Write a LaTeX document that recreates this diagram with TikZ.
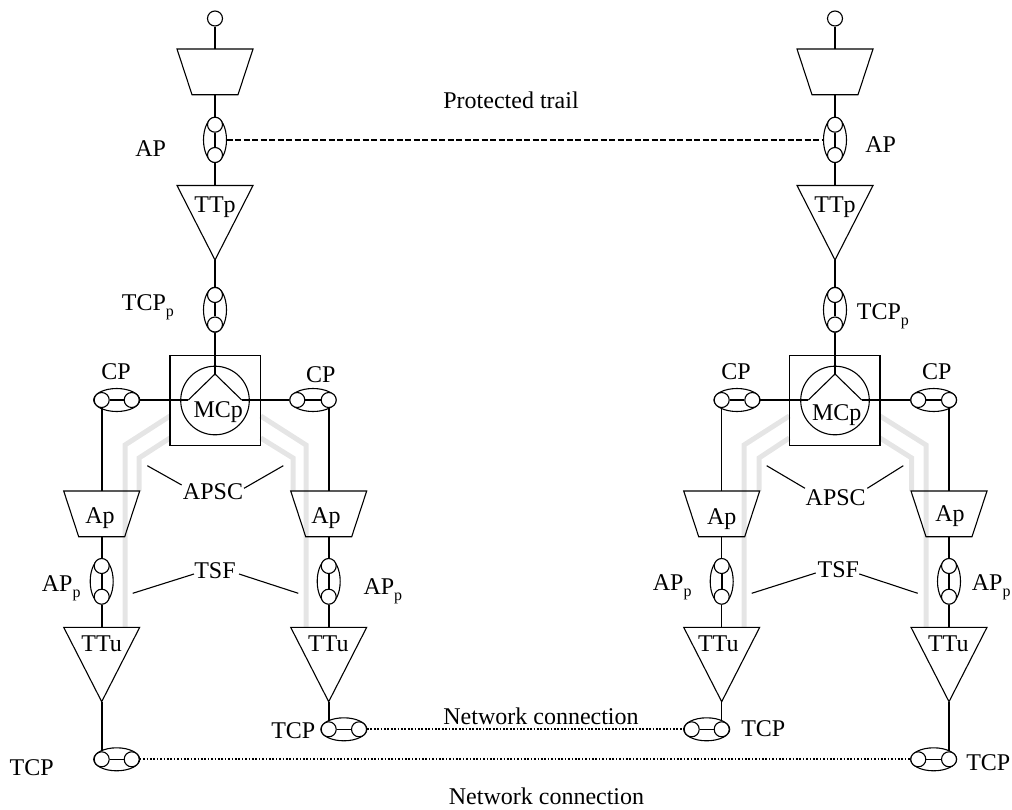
\documentclass[tikz,border=0pt]{standalone}
\usepackage{fontspec}
\setmainfont{Liberation Serif}
\newcommand{\subp}{\raisebox{-6pt}{\fontsize{16}{16}\selectfont p}}
\begin{document}
\begin{tikzpicture}[x=1pt,y=-1pt,
  ln/.style={draw=black,line width=1.1pt},
  thk/.style={draw=black,line width=1.6pt},
  gry/.style={draw=black!10,line width=5pt,line join=miter},
  lb/.style={inner sep=0pt,font=\fontsize{24}{26}\selectfont},
  bl/.style={lb,anchor=base},
  bw/.style={lb,anchor=base west},
  port/.style={circle,draw=black,line width=1.1pt,minimum size=15pt,inner sep=0pt,fill=white},
  trail/.style={line width=1.8pt,dash pattern=on 6pt off 2.5pt},
  conn/.style={line width=1.7pt,dash pattern=on 1.7pt off 1.7pt}]
\useasboundingbox (0,0) rectangle (1012,809);
\newcommand{\vpair}[4]{% name, x, y-top, y-bottom
  \draw[ln] (#2,{(#3+#4)/2}) ellipse (11.5 and 22.5);
  \node[port] (#1a) at (#2,#3) {};
  \node[port] (#1b) at (#2,#4) {};
  \draw[thk] (#1a) -- (#1b);}
\newcommand{\hpair}[4]{% name, x-left, x-right, y
  \draw[ln] ({(#2+#3)/2},#4) ellipse (23 and 11.5);
  \node[port] (#1a) at (#2,#4) {};
  \node[port] (#1b) at (#3,#4) {};
  \draw[thk] (#1a) -- (#1b);}
\newcommand{\trap}[6]{% name, cx, ytop, ybot, halftop, halfbot
  \draw[ln,line join=miter] ({#2-#5},#3) -- ({#2+#5},#3) -- ({#2+#6},#4) -- ({#2-#6},#4) -- cycle;
  \coordinate (#1t) at (#2,#3);
  \coordinate (#1b) at (#2,#4);}
\newcommand{\tri}[5]{% name, cx, ytop, yapex, half
  \draw[ln,line join=miter] ({#2-#5},#3) -- ({#2+#5},#3) -- (#2,#4) -- cycle;
  \coordinate (#1t) at (#2,#3);
  \coordinate (#1b) at (#2,#4);}

% gray APS/TSF signal paths, behind everything
\draw[gry] (170,416) -- (125,445) -- (125,627);
\draw[gry] (170,438) -- (139,458) -- (139,491);
\draw[gry] (260.7,416) -- (306,445) -- (306,627);
\draw[gry] (260.7,438) -- (293,458) -- (293,491);
\draw[gry] (789.3,416) -- (744,445) -- (744,627);
\draw[gry] (789.3,438) -- (759,458) -- (759,491);
\draw[gry] (880,416) -- (926,445) -- (926,627);
\draw[gry] (880,438) -- (911.7,458) -- (911.7,491);

% ---------- left station
\node[port] (Lin) at (215,18.5) {};
\trap{Ltop}{215}{49}{94.7}{38}{23}
\vpair{Lap}{215}{124.7}{155}
\tri{Ltt}{215}{185.5}{260}{38}
\vpair{Ltcp}{215}{295}{324.5}
\draw[ln] (170,355.7) rectangle (260.7,445.7);
\draw[ln] (215,400.5) circle (34.3);
\coordinate (Ly) at (215,374);
\coordinate (Lyl) at (188.3,400);
\coordinate (Lyr) at (241.7,400);
\hpair{Lcl}{101.7}{131.7}{400}
\hpair{Lcr}{297.3}{328.7}{400}
\trap{Lal}{101.7}{491}{536.7}{38}{23}
\trap{Lar}{328.7}{491}{536.7}{38}{23}
\vpair{Lpl}{101.7}{566}{596.7}
\vpair{Lpr}{328.7}{566}{596.7}
\tri{Ltl}{101.7}{627.3}{701.7}{38}
\tri{Ltr}{328.7}{627.3}{701.7}{38}
\hpair{Lbl}{101.7}{131.7}{759.3}
\hpair{Lbr}{328.7}{359}{729.3}

\draw[ln] (Lin) -- (Ltopt);
\draw[ln] (Ltopb) -- (Lapa);
\draw[ln] (Lapb) -- (Lttt);
\draw[ln] (Lttb) -- (Ltcpa);
\draw[ln] (Ltcpb) -- (Ly);
\draw[ln] (Lyl) -- (Ly) -- (Lyr);
\draw[ln] (Lyl) -- (Lclb);
\draw[ln] (Lyr) -- (Lcra);
\draw[thk] (Lcla) -- (Lalt);
\draw[thk] (Lcrb) -- (Lart);
\draw[thk] (Lalb) -- (Lpla);
\draw[thk] (Larb) -- (Lpra);
\draw[thk] (Lplb) -- (Ltlt);
\draw[thk] (Lprb) -- (Ltrt);
\draw[thk] (Ltlb) -- (Lbla);
\draw[thk] (Ltrb) -- (Lbra);

% ---------- right station
\node[port] (Rin) at (835,18.5) {};
\trap{Rtop}{835}{49}{94.7}{38}{23}
\vpair{Rap}{835}{124.7}{155}
\tri{Rtt}{835}{185.5}{260}{38}
\vpair{Rtcp}{835}{295}{324.5}
\draw[ln] (789.3,355.7) rectangle (880,445.7);
\draw[ln] (835,400.5) circle (34.3);
\coordinate (Ry) at (835,374);
\coordinate (Ryl) at (808.3,400);
\coordinate (Ryr) at (861.7,400);
\hpair{Rcl}{721.7}{752.3}{400}
\hpair{Rcr}{918.3}{949}{400}
\trap{Ral}{721.7}{491}{536.7}{38}{23}
\trap{Rar}{949}{491}{536.7}{38}{23}
\vpair{Rpl}{721.7}{566}{596.7}
\vpair{Rpr}{949}{566}{596.7}
\tri{Rtl}{721.7}{627.3}{701.7}{38}
\tri{Rtr}{949}{627.3}{701.7}{38}
\hpair{Rbl}{691.7}{721.7}{729.3}
\hpair{Rbr}{918.3}{949}{759.3}

\draw[ln] (Rin) -- (Rtopt);
\draw[ln] (Rtopb) -- (Rapa);
\draw[ln] (Rapb) -- (Rttt);
\draw[ln] (Rttb) -- (Rtcpa);
\draw[ln] (Rtcpb) -- (Ry);
\draw[ln] (Ryl) -- (Ry) -- (Ryr);
\draw[ln] (Ryl) -- (Rclb);
\draw[ln] (Ryr) -- (Rcra);
\draw[ln] (Rcla) -- (Ralt);
\draw[thk] (Rcrb) -- (Rart);
\draw[ln] (Ralb) -- (Rpla);
\draw[thk] (Rarb) -- (Rpra);
\draw[ln] (Rplb) -- (Rtlt);
\draw[thk] (Rprb) -- (Rtrt);
\draw[ln] (Rtlb) -- (Rblb);
\draw[thk] (Rtrb) -- (Rbrb);

% ---------- trails
\coordinate (Ltrail) at (226.7,140);
\coordinate (Rtrail) at (823.5,140);
\draw[trail] (Ltrail) -- (Rtrail);
\draw[conn] (Lbrb) -- (Rbla);
\draw[conn] (Lblb) -- (Rbra);

% ---------- leader lines
\coordinate (a1) at (147.3,465.7); \coordinate (a2) at (181.7,485);
\coordinate (a3) at (283.3,465.7); \coordinate (a4) at (244,488.3);
\draw[ln] (a1) -- (a2); \draw[ln] (a3) -- (a4);
\coordinate (a5) at (766.7,465.7); \coordinate (a6) at (805,488.3);
\coordinate (a7) at (903.3,465.7); \coordinate (a8) at (867.3,488.3);
\draw[ln] (a5) -- (a6); \draw[ln] (a7) -- (a8);
\coordinate (t1) at (132.7,593.3); \coordinate (t2) at (194,574);
\coordinate (t3) at (298.3,593.3); \coordinate (t4) at (239,574);
\draw[ln] (t1) -- (t2); \draw[ln] (t3) -- (t4);
\coordinate (t5) at (751.7,593.3); \coordinate (t6) at (815.7,573);
\coordinate (t7) at (917.7,593.3); \coordinate (t8) at (859.3,574);
\draw[ln] (t5) -- (t6); \draw[ln] (t7) -- (t8);

% ---------- labels
\node[bl] (lb1) at (150.7,156) {AP};
\node[bl] (lb2) at (880.7,152) {AP};
\node[bl] (lb3) at (215,212.7) {TTp};
\node[bl] (lb4) at (835,212.7) {TTp};
\node[bw] (lb5) at (121.7,310.7) {TCP\subp};
\node[bw] (lb6) at (856.7,319) {TCP\subp};
\node[bl] (lb7) at (116,379) {CP};
\node[bl] (lb8) at (320.7,382) {CP};
\node[bl] (lb9) at (736,379) {CP};
\node[bl] (lb10) at (936.7,379) {CP};
\node[bl] (lb11) at (218.3,417.7) {MCp};
\node[bl] (lb12) at (836.7,420) {MCp};
\node[bl] (lb13) at (213,499) {APSC};
\node[bl] (lb14) at (835.7,505) {APSC};
\node[bl] (lb15) at (100,523) {Ap};
\node[bl] (lb16) at (326,523) {Ap};
\node[bl] (lb17) at (721.7,524) {Ap};
\node[bl] (lb18) at (950,521.7) {Ap};
\node[bw] (lb19) at (41.7,591) {AP\subp};
\node[bw] (lb20) at (363.3,594) {AP\subp};
\node[bw] (lb21) at (652.7,590) {AP\subp};
\node[bw] (lb22) at (971.7,590) {AP\subp};
\node[bl] (lb23) at (215,578) {TSF};
\node[bl] (lb24) at (838.3,577) {TSF};
\node[bl] (lb25) at (101.7,651.7) {TTu};
\node[bl] (lb26) at (328.3,651.7) {TTu};
\node[bl] (lb27) at (718.3,651) {TTu};
\node[bl] (lb28) at (948.3,651) {TTu};
\node[bl] (lb29) at (31.7,775) {TCP};
\node[bl] (lb30) at (293.3,738.3) {TCP};
\node[bl] (lb31) at (763.3,736.7) {TCP};
\node[bl] (lb32) at (988.3,770) {TCP};
\node[bl] (lb33) at (511,108) {Protected trail};
\node[bl] (lb34) at (541,724) {Network connection};
\node[bl] (lb35) at (546.5,804) {Network connection};
\end{tikzpicture}
\end{document}
